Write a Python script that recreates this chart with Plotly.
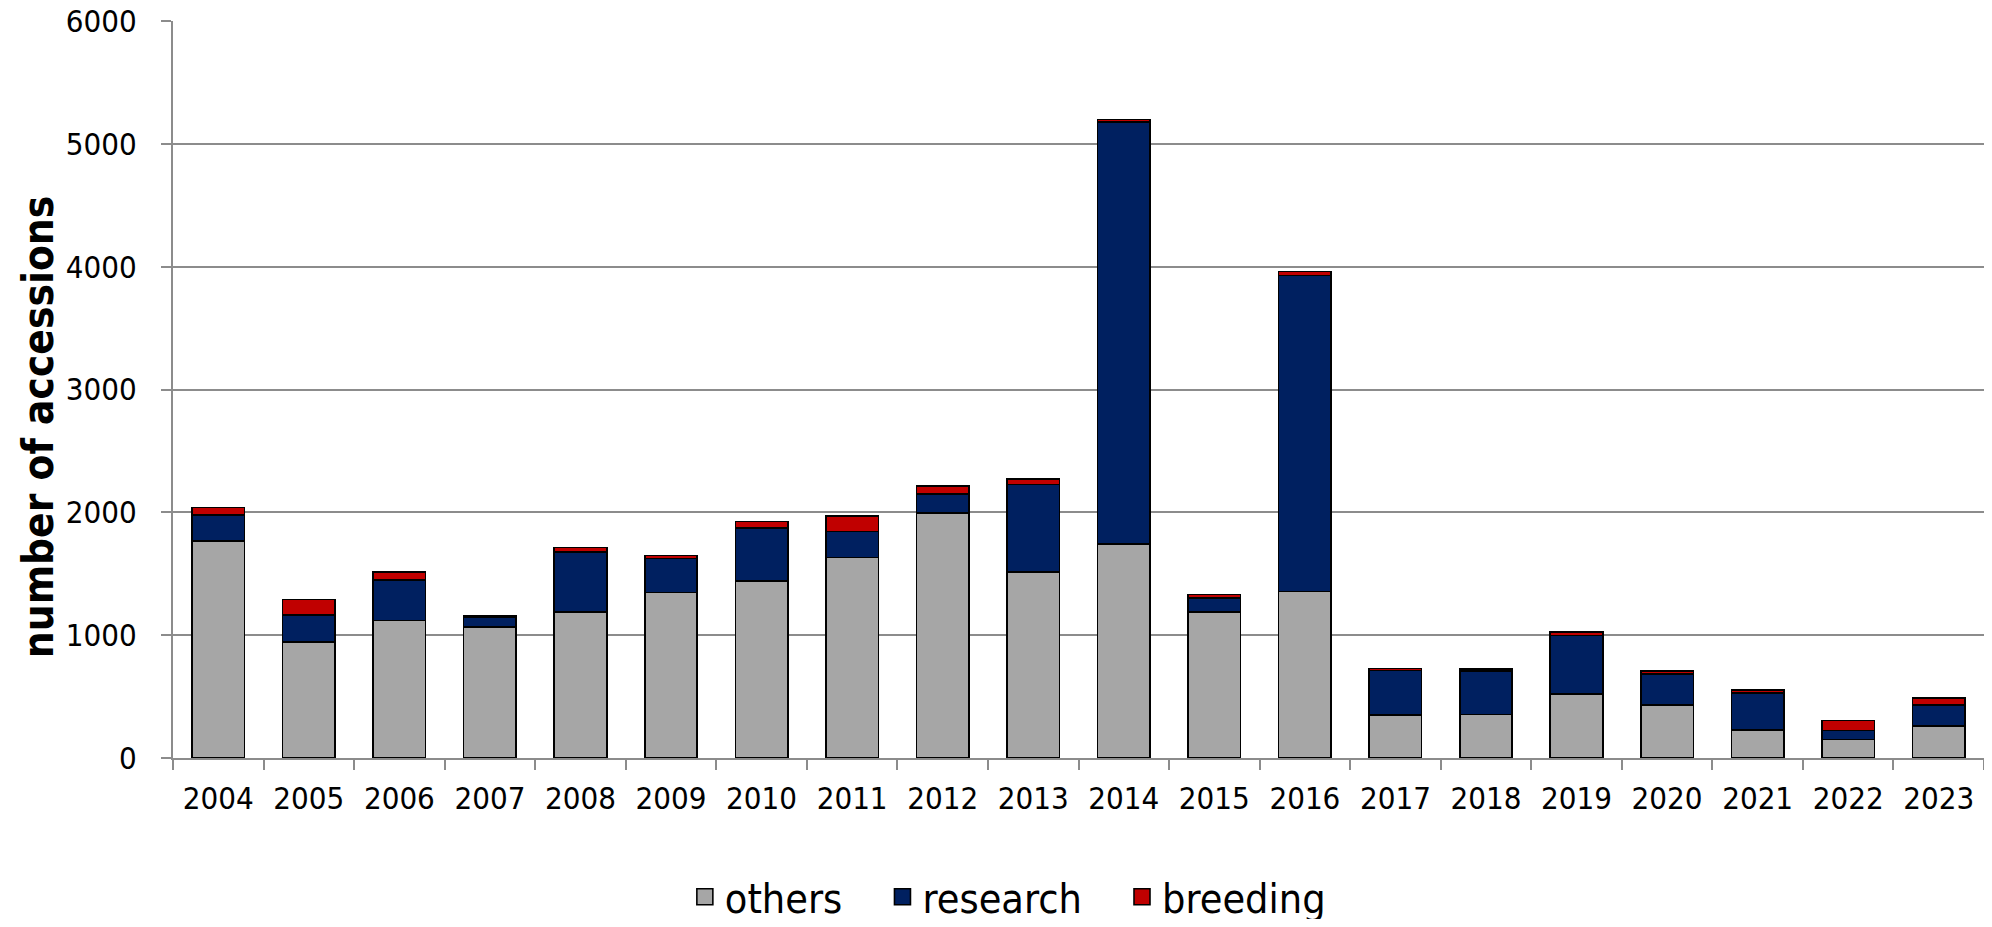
import plotly.graph_objects as go

years = [str(y) for y in range(2004, 2024)]
others = [1766, 944, 1121, 1067, 1189, 1347, 1442, 1633, 1993, 1516,
          1744, 1189, 1355, 348, 354, 522, 430, 226, 152, 259]
research = [210, 221, 329, 82, 490, 277, 430, 212, 157, 712,
            3432, 115, 2574, 365, 356, 476, 256, 302, 71, 171]
breeding = [62, 125, 66, 10, 35, 25, 52, 125, 65, 41,
            22, 27, 33, 15, 15, 28, 20, 24, 82, 60]

series_names = ["others", "research", "breeding"]
legend_labels = ["others\u00a0\u00a0\u00a0", "research\u00a0\u00a0\u00a0", "breeding"]
series_colors = ["#A6A6A6", "#002060", "#C00000"]
series_values = [others, research, breeding]

FONT = "DejaVu Sans Condensed, DejaVu Sans, sans-serif"

fig = go.Figure()
for name, color, vals in zip(series_names, series_colors, series_values):
    fig.add_trace(go.Bar(
        x=years, y=vals, name=name, showlegend=False,
        marker=dict(color=color, line=dict(color="#000000", width=1.6)),
    ))
# legend-only entries (bigger square swatches)
for label, color in zip(legend_labels, series_colors):
    fig.add_trace(go.Scatter(
        x=[None], y=[None], mode="markers", name=label, showlegend=True,
        marker=dict(symbol="square", size=22, color=color,
                    line=dict(color="#000000", width=1.6)),
    ))

fig.update_layout(
    width=1976, height=911,
    barmode="stack", bargap=0.42,
    plot_bgcolor="#FFFFFF", paper_bgcolor="#FFFFFF",
    margin=dict(l=165, r=0, t=13, b=161, autoexpand=False),
    font=dict(family=FONT, size=31, color="#000000"),
    legend=dict(
        orientation="h", xref="container", yref="container",
        x=0.506, xanchor="center", y=0.024, yanchor="middle",
        font=dict(family=FONT, size=41, color="#000000"),
        traceorder="normal", itemsizing="trace",
    ),
    annotations=[dict(
        text="<b>number of accessions</b>", textangle=-90,
        xref="paper", yref="paper", x=-0.0745, y=0.449,
        xanchor="center", yanchor="middle", showarrow=False,
        font=dict(family=FONT, size=42, color="#000000"),
    )],
)
fig.update_xaxes(
    type="category", showgrid=False, automargin=False,
    showline=True, linecolor="#8C8C8C", linewidth=2,
    ticks="outside", tickson="boundaries", ticklen=10, tickcolor="#8C8C8C",
    tickwidth=2, ticklabelstandoff=12,
    tickfont=dict(family=FONT, size=31),
)
fig.update_yaxes(
    range=[0, 6000], dtick=1000, tick0=0, automargin=False,
    showgrid=True, gridcolor="#8C8C8C", gridwidth=2,
    showline=True, linecolor="#8C8C8C", linewidth=2,
    ticks="outside", ticklen=10, tickcolor="#8C8C8C", tickwidth=2,
    ticklabelstandoff=18, zeroline=False, ticklabeloverflow="allow",
    tickfont=dict(family=FONT, size=31),
)

fig.write_html("out.html")
